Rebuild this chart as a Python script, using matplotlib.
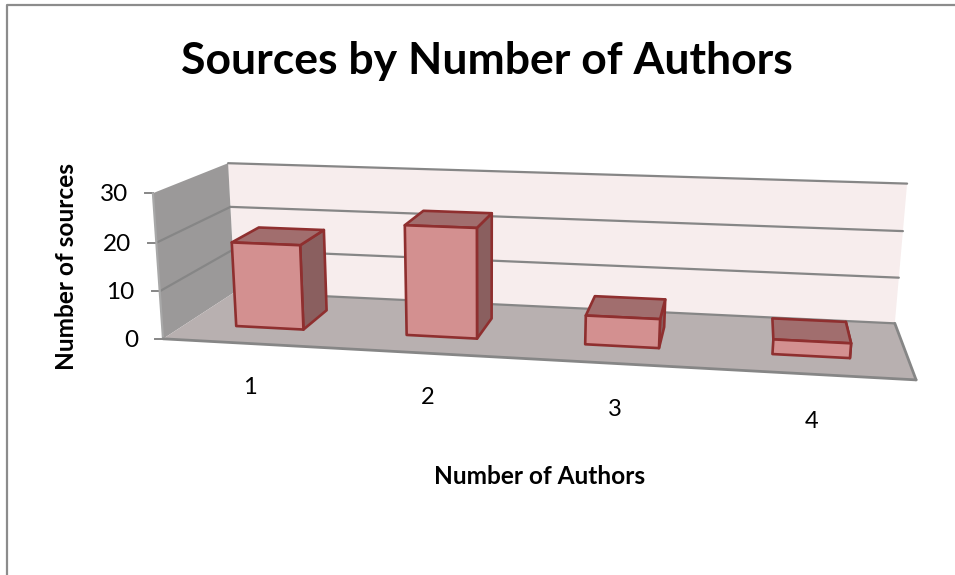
import numpy as np
import matplotlib
matplotlib.use('Agg')
import matplotlib.pyplot as plt
from matplotlib.patches import Polygon

plt.rcParams['font.family'] = ['Lato', 'DejaVu Sans']

categories = ['1', '2', '3', '4']
sources = [18, 23, 6, 3]
y_ticks = [0, 10, 20, 30]
y_max = 30

W, H = 955, 575

# box corners (x, depth, height as a fraction) and where they land on the canvas
box_pts = [(0, 0, 0), (1, 0, 0), (0, 1, 0), (1, 1, 0), (0, 0, 1), (0, 1, 1), (1, 1, 1)]
canvas_pts = [(164, 338), (916, 381), (234, 293), (895, 322), (152, 193), (229, 163), (907, 184)]


def fit_camera(src, dst):
    A = []
    b = []
    for (X, Y, Z), (u, v) in zip(src, dst):
        A.append([X, Y, Z, 1, 0, 0, 0, 0, -u*X, -u*Y, -u*Z])
        b.append(u)
        A.append([0, 0, 0, 0, X, Y, Z, 1, -v*X, -v*Y, -v*Z])
        b.append(v)
    p = np.linalg.lstsq(np.array(A, float), np.array(b, float), rcond=None)[0]
    return np.append(p, 1).reshape(3, 4)


cam = fit_camera(box_pts, canvas_pts)


def proj(x, d, z):
    u, v, w = cam @ np.array([x, d, z, 1.0])
    return u/w, v/w


def face(pts, fc, ec='none', lw=0, z=1):
    ax.add_patch(Polygon([proj(*p) for p in pts], closed=True, fc=fc, ec=ec, lw=lw, zorder=z, joinstyle='round'))


def seg(a, b, c='#868686', lw=1.6, z=2):
    pa, pb = proj(*a), proj(*b)
    ax.plot([pa[0], pb[0]], [pa[1], pb[1]], c=c, lw=lw, zorder=z, solid_capstyle='round')


fig = plt.figure(figsize=(W/100, H/100), dpi=100)
ax = fig.add_axes([0, 0, 1, 1])
ax.set_xlim(0, W)
ax.set_ylim(H, 0)
ax.axis('off')

# chart area border, only top and left are in frame
ax.plot([7, 7, W], [H, 5, 5], c='#8c8c8c', lw=1.6, zorder=1)

# walls and floor
face([(0, 1, 0), (1, 1, 0), (1, 1, 1), (0, 1, 1)], '#f7eded')
face([(0, 0, 0), (0, 1, 0), (0, 1, 1), (0, 0, 1)], '#9b9999')
face([(0, 0, 0), (1, 0, 0), (1, 1, 0), (0, 1, 0)], '#b8b0b0')

# gridlines run along the left wall then the back wall
for t in y_ticks:
    h = t/y_max
    if t > 0:
        if t < y_max:
            seg((0, 0, h), (0, 1, h))
        seg((0, 1, h), (1, 1, h))
    px, py = proj(0, 0, h)
    ax.plot([px-8, px], [py, py], c='#868686', lw=1.4, zorder=2)
    ax.text(px-25, py+1.5, str(t), ha='right', va='center', fontsize=17.5, color='black')

seg((0, 0, 0), (0, 0, 1), c='#a8a8a8')
seg((0, 0, 0), (1, 0, 0), lw=2)
seg((1, 0, 0), (1, 1, 0), lw=2)
seg((0, 1, 0), (1, 1, 0))

# bars, Excel style gaps: 150% of the bar size each way
n = len(sources)
bar_w = (1/n)/2.5
d0, d1 = 0.3, 0.7
edge = '#8f2f2f'
for i, val in enumerate(sources):
    x0 = (i+0.5)/n - bar_w/2
    x1 = x0 + bar_w
    h = val/y_max
    face([(x1, d0, 0), (x1, d1, 0), (x1, d1, h), (x1, d0, h)], '#8a5f5f', edge, 1.9, 3)
    face([(x0, d0, h), (x1, d0, h), (x1, d1, h), (x0, d1, h)], '#a16e6e', edge, 1.9, 4)
    face([(x0, d0, 0), (x1, d0, 0), (x1, d0, h), (x0, d0, h)], '#d39090', edge, 1.9, 5)

# category labels sit below the front edge of the floor
label_pos = [(250, 388), (428, 397), (615, 409), (812, 422)]
for lab, (lx, ly) in zip(categories, label_pos):
    ax.text(lx, ly, lab, ha='center', va='center', fontsize=17, color='black')

ax.text(487, 61, 'Sources by Number of Authors', ha='center', va='center', fontsize=32, fontweight='bold')
ax.text(67, 266, 'Number of sources', rotation=90, ha='center', va='center', fontsize=17.6, fontweight='bold')
ax.text(540, 477, 'Number of Authors', ha='center', va='center', fontsize=17.6, fontweight='bold')

fig.savefig('out.png', dpi=100)
